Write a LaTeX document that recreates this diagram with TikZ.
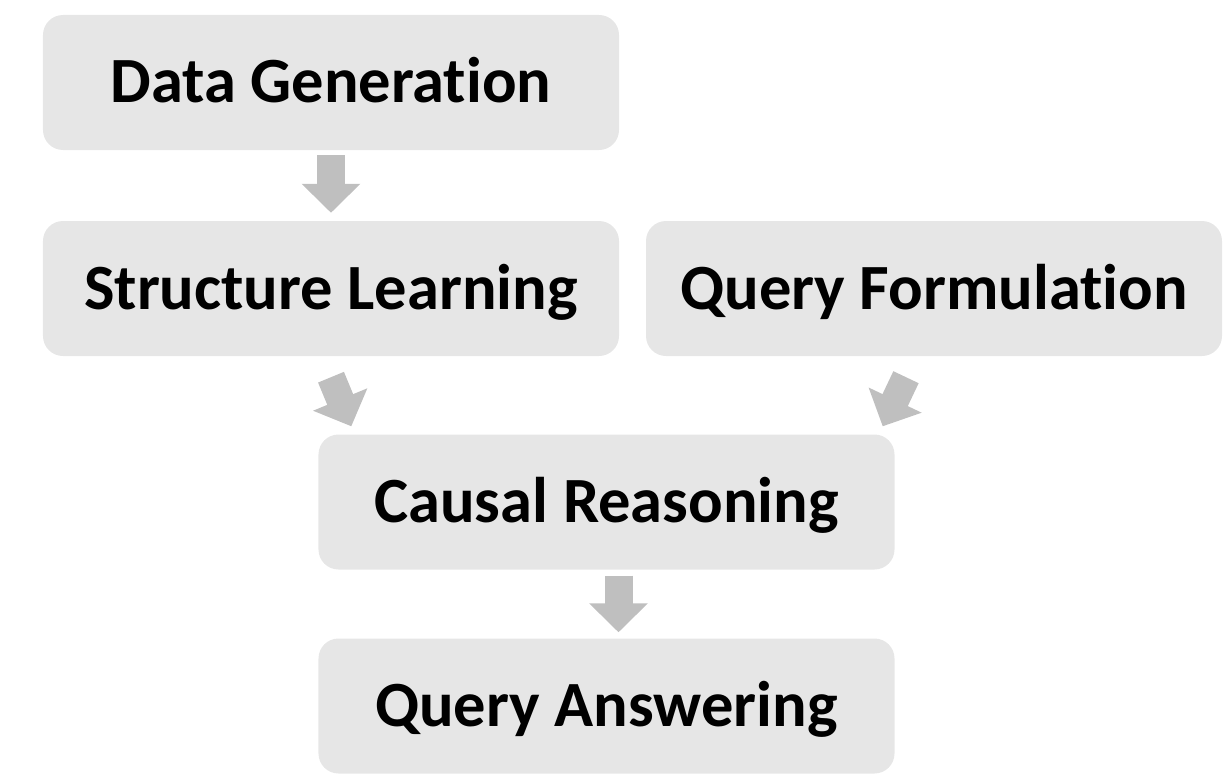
\documentclass[tikz,border=0pt]{standalone}
\usepackage{fontspec}
\setmainfont[Ligatures=NoCommon]{Carlito}
\usetikzlibrary{arrows.meta}
\definecolor{boxfill}{HTML}{E6E6E6}
\definecolor{arrowfill}{HTML}{BFBFBF}
\tikzset{
  stage/.style={fill=boxfill, draw=none, rounded corners=20bp,
    minimum width=576bp, minimum height=135bp, inner sep=0pt,
    text height=41bp, text depth=0bp,
    font=\fontsize{64.5bp}{72bp}\selectfont\bfseries},
  flow/.style={draw=arrowfill, line width=28bp,
    -{Triangle[width=57bp,length=29bp,fill=arrowfill]}}
}
\begin{document}
\begin{tikzpicture}[x=1bp,y=-1bp]
\useasboundingbox (0,0) rectangle (1231,774);
\node[stage] (dg) at (331,82.5) {Data Generation};
\node[stage] (sl) at (331,288.5) {Structure Learning};
\node[stage] (qf) at (934,288.5) {Query Formulation};
\node[stage] (cr) at (606.5,502) {Causal Reasoning};
\node[stage] (qa) at (606.5,706) {Query Answering};
\draw[flow] ([yshift=-5bp]dg.south) -- ([yshift=8bp]sl.north);
\draw[flow] ([yshift=-21bp]sl.south) -- ([xshift=33bp,yshift=8bp]cr.north west);
\draw[flow] ([xshift=-28bp,yshift=-21bp]qf.south) -- ([xshift=-12bp,yshift=8bp]cr.north east);
\draw[flow] ([xshift=12bp,yshift=-6bp]cr.south) -- ([xshift=12bp,yshift=6bp]qa.north);
\end{tikzpicture}
\end{document}
